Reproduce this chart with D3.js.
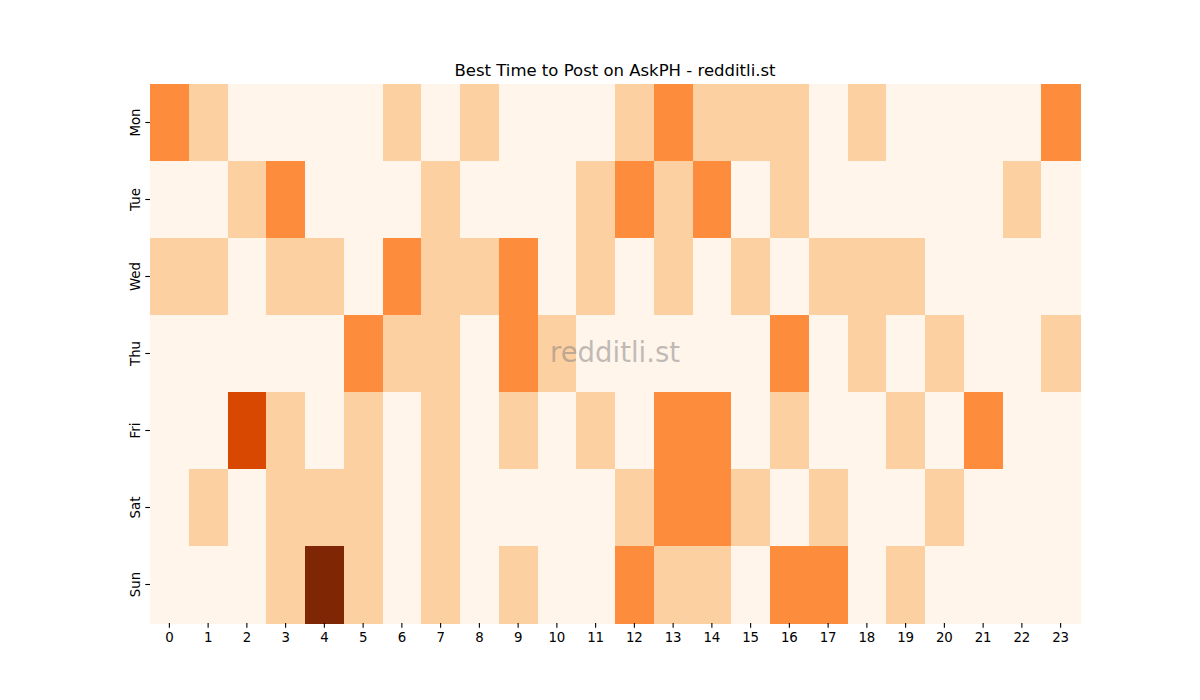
<!DOCTYPE html>
<html>
<head>
<meta charset="utf-8">
<script src="https://cdn.jsdelivr.net/npm/d3@7"></script>
<style>
  html, body { margin: 0; padding: 0; background: #ffffff; }
  svg { display: block; font-family: "DejaVu Sans", sans-serif; }
</style>
</head>
<body>
<svg id="chart" width="1200" height="700"></svg>
<script>
const title = "Best Time to Post on AskPH - redditli.st";
const watermark = "redditli.st";
const days = ["Mon", "Tue", "Wed", "Thu", "Fri", "Sat", "Sun"];
const hours = d3.range(24).map(String);

const mon = [2,1,0,0,0,0,1,0,1,0,0,0,1,2,1,1,1,0,1,0,0,0,0,2];
const tue = [0,0,1,2,0,0,0,1,0,0,0,1,2,1,2,0,1,0,0,0,0,0,1,0];
const wed = [1,1,0,1,1,0,2,1,1,2,0,1,0,1,0,1,0,1,1,1,0,0,0,0];
const thu = [0,0,0,0,0,2,1,1,0,2,1,0,0,0,0,0,2,0,1,0,1,0,0,1];
const fri = [0,0,3,1,0,1,0,1,0,1,0,1,0,2,2,0,1,0,0,1,0,2,0,0];
const sat = [0,1,0,1,1,1,0,1,0,0,0,0,1,2,2,1,0,1,0,0,1,0,0,0];
const sun = [0,0,0,1,4,1,0,1,0,1,0,0,2,1,1,0,2,2,0,1,0,0,0,0];
const rows = [mon, tue, wed, thu, fri, sat, sun];

const W = 1200, H = 700;
const margin = { left: 150, right: 120, top: 84, bottom: 77 };
const svg = d3.select("#chart");

const x = d3.scaleBand().domain(hours).range([margin.left, W - margin.right]).padding(0);
const y = d3.scaleBand().domain(days).range([margin.top, H - margin.bottom]).padding(0);
const color = d3.scaleLinear()
  .domain([0, 1, 2, 3, 4])
  .range(["#fff5eb", "#fdd0a2", "#fd8d3c", "#d94801", "#7f2704"]);

const cells = [];
rows.forEach((vals, i) => vals.forEach((v, j) => cells.push({ day: days[i], hour: hours[j], v })));

svg.append("g").selectAll("rect").data(cells).join("rect")
  .attr("x", d => x(d.hour))
  .attr("y", d => y(d.day))
  .attr("width", x.bandwidth() + 0.5)
  .attr("height", y.bandwidth() + 0.5)
  .attr("fill", d => color(d.v))
  .attr("shape-rendering", "crispEdges");

// watermark
svg.append("text")
  .attr("x", (x.range()[0] + x.range()[1]) / 2)
  .attr("y", (y.range()[0] + y.range()[1]) / 2 + 8.5)
  .attr("text-anchor", "middle")
  .attr("font-size", "27.5px")
  .attr("fill", "#808080")
  .attr("fill-opacity", 0.5)
  .text(watermark);

// x axis
const xAxis = svg.append("g")
  .attr("transform", `translate(0,${H - margin.bottom})`)
  .call(d3.axisBottom(x).tickSize(4.67).tickSizeOuter(0).tickPadding(4.67));
xAxis.select(".domain").remove();
xAxis.selectAll("line").attr("stroke", "#000").attr("stroke-width", 1.1);
xAxis.selectAll("text")
  .attr("font-size", "13.33px")
  .attr("font-family", "DejaVu Sans, sans-serif")
  .attr("fill", "#000")
  .attr("dy", "0.71em");

// y axis
const yAxis = svg.append("g")
  .attr("transform", `translate(${margin.left},0)`)
  .call(d3.axisLeft(y).tickSize(4.67).tickSizeOuter(0).tickPadding(4.67));
yAxis.select(".domain").remove();
yAxis.selectAll("line").attr("stroke", "#000").attr("stroke-width", 1.1);
yAxis.selectAll("text").remove();
yAxis.selectAll(".tick").append("text")
  .attr("transform", "translate(-10.5,0) rotate(-90)")
  .attr("text-anchor", "middle")
  .attr("font-size", "13.33px")
  .attr("font-family", "DejaVu Sans, sans-serif")
  .attr("fill", "#000")
  .text(d => d);

// title
svg.append("text")
  .attr("x", (x.range()[0] + x.range()[1]) / 2)
  .attr("y", margin.top - 8)
  .attr("text-anchor", "middle")
  .attr("font-size", "16.5px")
  .attr("fill", "#000")
  .text(title);
</script>
</body>
</html>
